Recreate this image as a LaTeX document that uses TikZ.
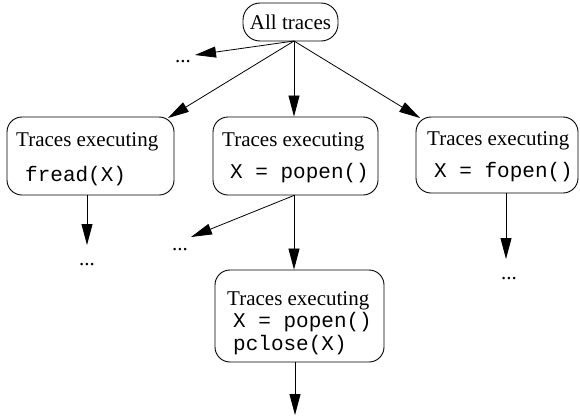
\documentclass[tikz,border=0pt]{standalone}
\usepackage{fontspec}
\setmainfont{Liberation Serif}
\setmonofont{Liberation Mono}
\usetikzlibrary{arrows.meta}
\begin{document}
\begin{tikzpicture}[x=1pt,y=-1pt,
  box/.style={draw,line width=0.9pt,rounded corners=15pt,inner sep=0pt},
  lbl/.style={anchor=base west,inner sep=0pt,font=\fontsize{21}{25}\selectfont},
  code/.style={anchor=base west,inner sep=0pt,font=\fontsize{21}{25}\selectfont\ttfamily},
  dots/.style={anchor=base,inner sep=0pt,font=\fontsize{21}{25}\selectfont},
  arr/.style={line width=0.8pt,-{Triangle[length=21pt,width=11pt]}}]
\useasboundingbox (0,0) rectangle (580,418);

% root node
\node[box,rounded corners=17pt,minimum width=95pt,minimum height=38pt,
      font=\fontsize{21}{25}\selectfont] (all) at (290.5,22) {All traces};
\coordinate (allout) at (294,41);

% first level
\node[box,minimum width=167pt,minimum height=78pt] (fread) at (90.5,156) {};
\node[lbl] at (16,146) {Traces executing};
\node[code] at (25,181) {fread(X)};

\node[box,minimum width=165pt,minimum height=78pt] (popen) at (295.5,156) {};
\node[lbl] at (222,146) {Traces executing};
\node[code] at (230,178) {X = popen()};

\node[box,minimum width=162pt,minimum height=76pt] (fopen) at (497,155) {};
\node[lbl] at (427,145) {Traces executing};
\node[code] at (434,177) {X = fopen()};

% second level
\node[box,minimum width=169pt,minimum height=92pt] (pclose) at (299.5,316) {};
\node[lbl] at (227,305) {Traces executing};
\node[code] at (233,327) {X = popen()};
\node[code] at (233,350) {pclose(X)};

% elided branches
\node[dots] (d0) at (183,62) {...};
\node[dots] (d1) at (87,265) {...};
\node[dots] (d2) at (180,250) {...};
\node[dots] (d3) at (509,279) {...};
\coordinate (d0tip) at (195,55);
\coordinate (d2tip) at (191,237);
\coordinate (d1tip) at (87,245);
\coordinate (d3tip) at (506,259);
\coordinate (lefttip) at (168,118);
\coordinate (righttip) at (420,118);
\coordinate (endtip) at (295,415);

% connectors
\draw[arr] (allout) -- (d0tip);
\draw[arr] (allout) -- (lefttip);
\draw[arr] (allout) -- (allout |- popen.north);
\draw[arr] (allout) -- (righttip);

\draw[arr] (d1tip |- fread.south) -- (d1tip);
\draw[arr] (allout |- popen.south) -- (d2tip);
\draw[arr] (allout |- popen.south) -- (allout |- pclose.north);
\draw[arr] (d3tip |- fopen.south) -- (d3tip);
\draw[arr] (endtip |- pclose.south) -- (endtip);
\end{tikzpicture}
\end{document}
